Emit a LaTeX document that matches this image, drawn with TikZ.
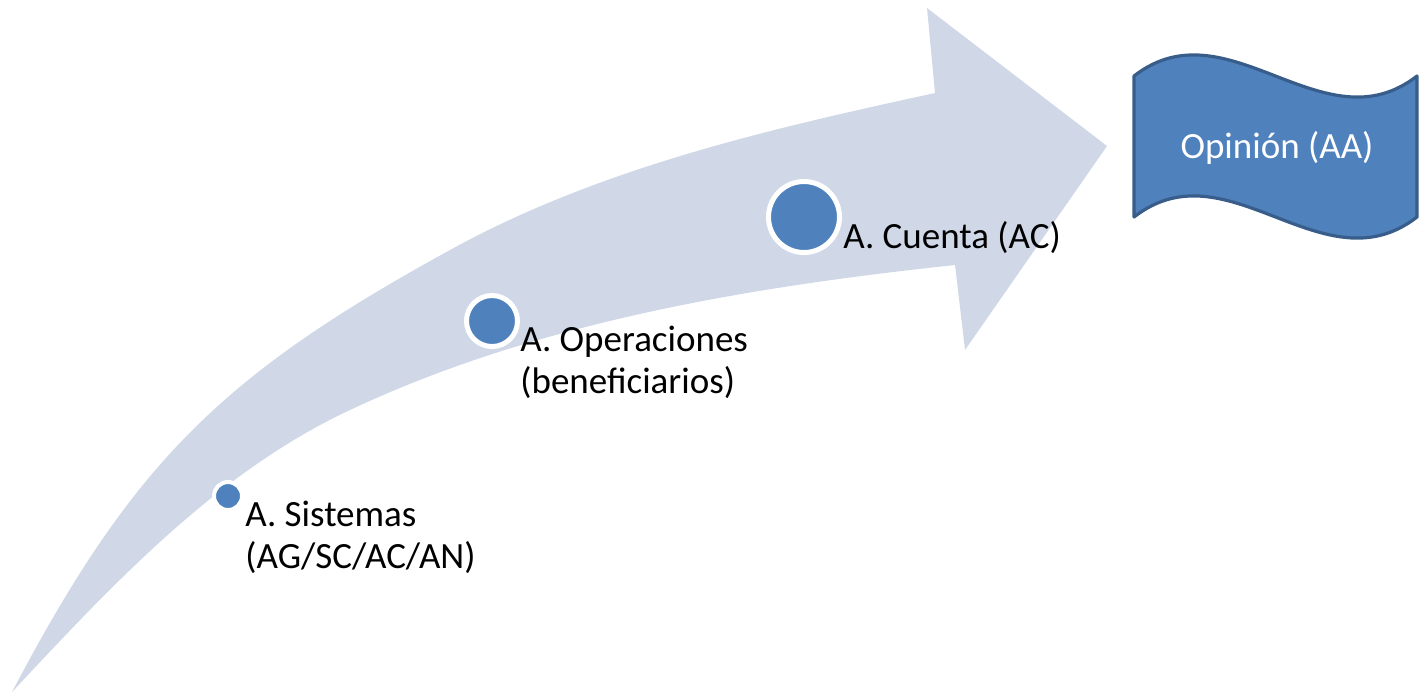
\documentclass[tikz,border=0pt]{standalone}
\usepackage{fontspec}
\setmainfont{Carlito}
\definecolor{bandc}{HTML}{D0D8E8}
\definecolor{dotc}{HTML}{4F81BD}
\definecolor{edgec}{HTML}{385D8A}
\begin{document}
\begin{tikzpicture}[x=0.5pt,y=-0.5pt,
  dot/.style={circle,fill=dotc,draw=white,inner sep=0pt},
  lbl/.style={anchor=base west,inner sep=0pt,align=left,font=\fontsize{18.5}{21}\selectfont},
  banner/.style={fill=dotc,draw=edgec,line width=1.6pt,line join=round}]
\useasboundingbox (0,0) rectangle (1422,693);
% curved arrow
\fill[bandc] (12,692) .. controls (133,462) and (222,375) .. (450,250)
  .. controls (599,168) and (769,129) .. (935,93)
  -- (927,8) -- (1107,146) -- (965,350) -- (955,265)
  .. controls (749,287) and (537,322) .. (350,410)
  .. controls (217,472) and (112,585) .. (12,692) -- cycle;
% dots
\node[dot,line width=2pt,minimum size=14pt] (d1) at (228,496) {};
\node[dot,line width=2.5pt,minimum size=25.5pt] (d2) at (492,321) {};
\node[dot,line width=2.5pt,minimum size=35.5pt] (d3) at (804,217) {};
% labels
\node[lbl] (t1) at (245,568) {A. Sistemas\\(AG/SC/AC/AN)};
\node[lbl] (t2) at (520,393) {A. Operaciones\\(beneficiarios)};
\node[lbl] (t3) at (843,248) {A. Cuenta (AC)};
% banner
\draw[banner] (1134,76) .. controls (1228,3) and (1323,149) .. (1417,76)
  -- (1417,217) .. controls (1323,290) and (1228,144) .. (1134,217) -- cycle;
\node[text=white,font=\fontsize{18.5}{21}\selectfont] (op) at (1277,148) {Opinión (AA)};
\end{tikzpicture}
\end{document}
